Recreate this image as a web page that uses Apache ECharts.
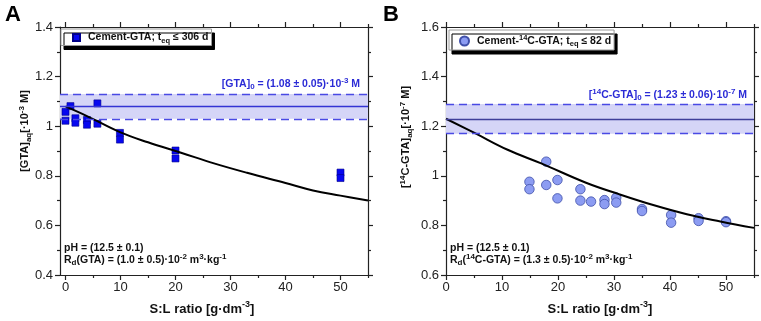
<!DOCTYPE html>
<html>
<head>
<meta charset="utf-8">
<script src="https://cdn.jsdelivr.net/npm/echarts@6/dist/echarts.min.js"></script>
<style>
html, body { margin: 0; padding: 0; background: #fff; }
#main { width: 761px; height: 321px; }
</style>
</head>
<body>
<div id="main"></div>
<script>
// panel A: cement-GTA
var slA = [0, 0, 0.9, 1.8, 1.8, 3.9, 3.9, 5.8, 5.8, 9.9, 9.9, 20, 20, 50, 50];
var gtaA = [1.058, 1.022, 1.081, 1.032, 1.014, 1.025, 1.006, 1.092, 1.01, 0.973, 0.946, 0.902, 0.870, 0.813, 0.791];
var fitSlA = [0, 4, 10, 15, 21, 27, 33, 40, 45, 50, 55];
var fitA = [1.08, 1.04, 0.975, 0.935, 0.893, 0.85, 0.812, 0.771, 0.741, 0.72, 0.70];
var bandA = [1.03, 1.08, 1.13];

// panel B: cement-14C-GTA
var slB = [14.9, 14.9, 17.9, 17.9, 19.9, 19.9, 24, 24, 25.9, 28.3, 28.3, 30.4, 30.4, 35, 35, 40.2, 40.2, 45.1, 45.1, 50, 50];
var gtaB = [0.976, 0.946, 1.057, 0.963, 0.983, 0.909, 0.946, 0.900, 0.896, 0.902, 0.886, 0.912, 0.892, 0.866, 0.858, 0.842, 0.811, 0.829, 0.818, 0.817, 0.813];
var fitSlB = [0, 5, 11, 17, 25, 31, 37, 43, 49, 55];
var fitB = [1.23, 1.174, 1.105, 1.05, 0.972, 0.925, 0.882, 0.845, 0.816, 0.79];
var bandB = [1.17, 1.23, 1.29];

var xMajor = [0, 10, 20, 30, 40, 50];
var xMinor = [5, 15, 25, 35, 45, 55];

var F = 'Liberation Sans, Arial, sans-serif';
var AX = '#222';

function ext(a, b) {
    return Object.assign({}, a, b);
}

function pairs(xs, ys) {
    return xs.map(function (x, i) {
        return [x, ys[i]];
    });
}

function richSet(size, color) {
    var s = Math.round(size * 0.72);
    return {
        b: {font: 'bold ' + size + 'px ' + F, fill: color, lineHeight: size + 4},
        sub: {font: 'bold ' + s + 'px ' + F, fill: color, lineHeight: s + 1, verticalAlign: 'bottom'},
        sup: {font: 'bold ' + s + 'px ' + F, fill: color, lineHeight: s + 1, verticalAlign: 'top'}
    };
}

function txt(x, y, text, size, color, align, rot) {
    return {
        type: 'text', x: x, y: y, rotation: rot || 0, silent: true,
        style: {
            legacy: false, text: text, rich: richSet(size, color),
            font: 'bold ' + size + 'px ' + F, fill: color,
            align: align || 'left', verticalAlign: 'middle'
        }
    };
}

function xAxes(grid, min) {
    var line = {color: AX, width: 1.2};
    var base = {gridIndex: grid, type: 'value', min: min, max: 55, splitLine: {show: false}};
    return [
        ext(base, {
            position: 'bottom',
            axisLine: {show: true, onZero: false, lineStyle: line},
            axisTick: {show: true, customValues: xMajor, length: 5, lineStyle: line},
            axisLabel: {customValues: xMajor, fontSize: 13, fontFamily: F, color: AX, margin: 6}
        }),
        ext(base, {
            position: 'bottom',
            axisLine: {show: false, onZero: false},
            axisTick: {show: true, customValues: xMinor, length: 3, lineStyle: line},
            axisLabel: {show: false}
        }),
        ext(base, {
            position: 'top',
            axisLine: {show: true, onZero: false, lineStyle: line},
            axisTick: {show: true, customValues: xMajor, length: 5, lineStyle: line},
            axisLabel: {show: false}
        }),
        ext(base, {
            position: 'top',
            axisLine: {show: false, onZero: false},
            axisTick: {show: true, customValues: xMinor, length: 3, lineStyle: line},
            axisLabel: {show: false}
        })
    ];
}

function yAxes(grid, min, max) {
    var line = {color: AX, width: 1.2};
    var base = {
        gridIndex: grid, type: 'value', min: min, max: max, interval: 0.2,
        axisLine: {show: true, onZero: false, lineStyle: line},
        axisTick: {show: true, length: 5, lineStyle: line},
        minorTick: {show: true, splitNumber: 2, length: 3, lineStyle: line},
        splitLine: {show: false}
    };
    return [
        ext(base, {
            position: 'left',
            axisLabel: {
                fontSize: 13, fontFamily: F, color: AX, margin: 7,
                formatter: function (v) {
                    return String(+v.toFixed(1));
                }
            }
        }),
        ext(base, {position: 'right', axisLabel: {show: false}})
    ];
}

function band(name, xi, yi, vals, midColor) {
    var dash = {type: [8, 5], color: '#4a4ae4', width: 1.3};
    return {
        name: name, type: 'line', xAxisIndex: xi, yAxisIndex: yi, data: [], silent: true, z: 1,
        markArea: {silent: true, itemStyle: {color: '#d5d5f7'}, data: [[{yAxis: vals[0]}, {yAxis: vals[2]}]]},
        markLine: {
            silent: true, symbol: ['none', 'none'], label: {show: false}, animation: false,
            data: [
                {yAxis: vals[0], lineStyle: dash},
                {yAxis: vals[1], lineStyle: {type: 'solid', color: midColor, width: 1.3}},
                {yAxis: vals[2], lineStyle: dash}
            ]
        }
    };
}

function legendStyle(x, y, pad, icon, fmt, name) {
    return {
        data: [name],
        left: x, top: y, padding: pad, icon: icon,
        itemWidth: icon === 'rect' ? 7 : 9, itemHeight: icon === 'rect' ? 7 : 9,
        backgroundColor: '#fff', borderColor: '#9a9a9a', borderWidth: 1,
        shadowColor: '#000', shadowBlur: 0, shadowOffsetX: 3, shadowOffsetY: 4,
        selectedMode: false,
        formatter: function () {
            return fmt;
        },
        textStyle: {
            fontFamily: F, fontSize: 10.5, fontWeight: 'bold', color: '#111', padding: [0, 0, 0, 3],
            rich: {
                b: {fontFamily: F, fontSize: 10.5, fontWeight: 'bold', color: '#111', lineHeight: 14},
                sub: {fontFamily: F, fontSize: 7.5, fontWeight: 'bold', color: '#111', lineHeight: 8, verticalAlign: 'bottom'},
                sup: {fontFamily: F, fontSize: 7.5, fontWeight: 'bold', color: '#111', lineHeight: 8, verticalAlign: 'top'}
            }
        }
    };
}

var chart = echarts.init(document.getElementById('main'));

var legA = legendStyle(61, 29, [3, 3, 1, 11], 'rect', '{b|Cement-GTA; t}{sub|eq}{b| ≤ 306 d}', 'Cement-GTA');
var legB = legendStyle(449, 30, [4, 3, 2, 10], 'circle', '{b|Cement-}{sup|14}{b|C-GTA; t}{sub|eq}{b| ≤ 82 d}', 'Cement-14C-GTA');

var blue = '#2b2bd6';

var option = {
    animation: false,
    backgroundColor: '#fff',
    grid: [
        {left: 60, top: 27, width: 308, height: 248},
        {left: 446, top: 27, width: 308, height: 248}
    ],
    xAxis: xAxes(0, -1).concat(xAxes(1, 0)),
    yAxis: yAxes(0, 0.4, 1.4).concat(yAxes(1, 0.6, 1.6)),
    legend: [legA, legB],
    series: [
        band('bandA', 0, 0, bandA, '#3434d4'),
        {
            name: 'Cement-GTA', type: 'scatter', xAxisIndex: 0, yAxisIndex: 0, z: 3,
            symbol: 'rect', symbolSize: 7,
            itemStyle: {color: '#0707f0', borderColor: '#00008a', borderWidth: 0.6, opacity: 1},
            data: pairs(slA, gtaA)
        },
        {
            name: 'fitA', type: 'line', xAxisIndex: 0, yAxisIndex: 0, z: 4,
            smooth: 0.4, showSymbol: false, symbol: 'none',
            lineStyle: {color: '#000', width: 2},
            data: pairs(fitSlA, fitA)
        },
        band('bandB', 4, 2, bandB, '#3e3e9a'),
        {
            name: 'Cement-14C-GTA', type: 'scatter', xAxisIndex: 4, yAxisIndex: 2, z: 3,
            symbol: 'circle', symbolSize: 9.5,
            itemStyle: {color: '#8c9cf2', borderColor: '#3f4fa8', borderWidth: 0.8, opacity: 1},
            data: pairs(slB, gtaB)
        },
        {
            name: 'fitB', type: 'line', xAxisIndex: 4, yAxisIndex: 2, z: 4,
            smooth: 0.4, showSymbol: false, symbol: 'none',
            lineStyle: {color: '#000', width: 2},
            data: pairs(fitSlB, fitB)
        }
    ],
    graphic: [
        txt(5, 15, '{b|A}', 22, '#000'),
        txt(383, 15, '{b|B}', 22, '#000'),
        txt(25, 131, '{b|[GTA]}{sub|aq}{b|[·10}{sup|-3}{b| M]}', 11, '#111', 'center', Math.PI / 2),
        txt(406, 137, '{b|[}{sup|14}{b|C-GTA]}{sub|aq}{b|[·10}{sup|-7}{b| M]}', 11, '#111', 'center', Math.PI / 2),
        txt(202, 309, '{b|S:L ratio [g·dm}{sup|-3}{b|]}', 13, '#111', 'center'),
        txt(600, 309, '{b|S:L ratio [g·dm}{sup|-3}{b|]}', 13, '#111', 'center'),
        txt(360, 84, '{b|[GTA]}{sub|0}{b| = (1.08 ± 0.05)·10}{sup|-3}{b| M}', 10.5, blue, 'right'),
        txt(747, 95, '{b|[}{sup|14}{b|C-GTA]}{sub|0}{b| = (1.23 ± 0.06)·10}{sup|-7}{b| M}', 10.5, blue, 'right'),
        txt(64, 248, '{b|pH = (12.5 ± 0.1)}', 10.5, '#111'),
        txt(64, 260, '{b|R}{sub|d}{b|(GTA) = (1.0 ± 0.5)·10}{sup|-2}{b| m}{sup|3}{b|·kg}{sup|-1}', 10.5, '#111'),
        txt(450, 248, '{b|pH = (12.5 ± 0.1)}', 10.5, '#111'),
        txt(450, 260, '{b|R}{sub|d}{b|(}{sup|14}{b|C-GTA) = (1.3 ± 0.5)·10}{sup|-2}{b| m}{sup|3}{b|·kg}{sup|-1}', 10.5, '#111')
    ]
};

chart.setOption(option);
</script>
</body>
</html>
